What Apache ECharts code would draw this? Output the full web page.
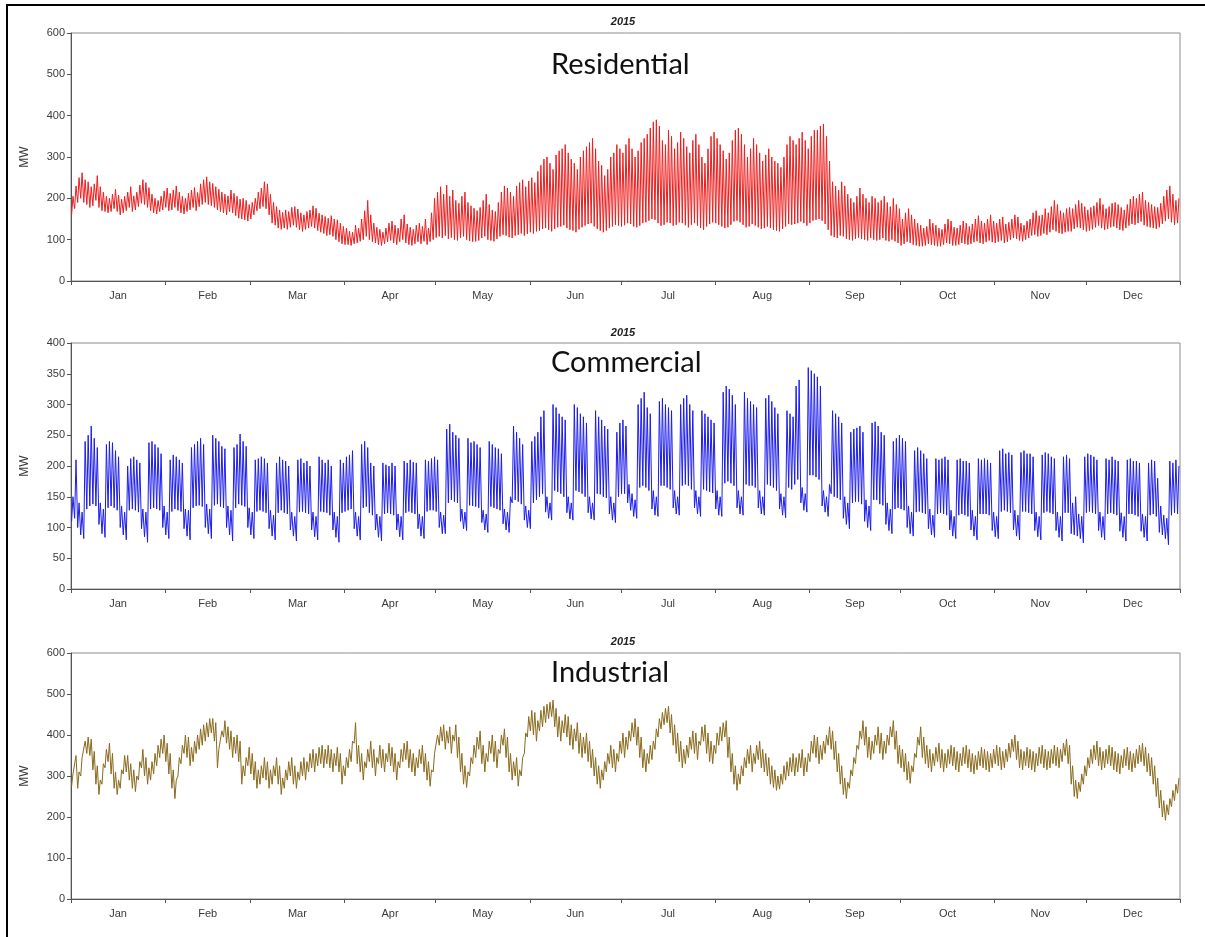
<!DOCTYPE html>
<html>
<head>
<meta charset="utf-8">
<script src="https://cdn.jsdelivr.net/npm/echarts@6/dist/echarts.min.js"></script>
<style>
html,body{margin:0;padding:0;background:#fff;}
#c{width:1205px;height:937px;}
</style>
</head>
<body>
<div id="c"></div>
<script>
const yearLabel = '2015';
const panelNames = ['Residential', 'Commercial', 'Industrial'];
const monthNames = ['Jan','Feb','Mar','Apr','May','Jun','Jul','Aug','Sep','Oct','Nov','Dec'];
const monthStarts = [0,31,59,90,120,151,181,212,243,273,304,334,365];
const yTicks1 = [0,100,200,300,400,500,600];
const yTicks2 = [0,50,100,150,200,250,300,350,400];
const yTicks3 = [0,100,200,300,400,500,600];

// Daily low / high (MW), rows are weeks starting Thu Jan 1 2015
const resHigh = [
205,230,250,262,245,240,228, 235,255,228,215,205,200,210, 222,208,198,205,215,228,206, 215,232,245,238,226,210,200,
195,205,218,225,212,220,230, 215,205,200,212,220,226,214, 235,245,252,240,236,228,222, 215,210,206,220,212,205,198,
200,195,185,190,200,215,225, 240,235,210,190,180,172,166, 172,168,178,180,174,165,160, 168,172,182,176,164,160,156,
152,158,150,148,140,132,128, 120,118,135,128,150,170,195, 160,140,130,125,118,128,140, 145,135,128,150,160,138,130,
125,135,140,132,150,128,165, 200,215,228,210,232,205,220, 195,188,205,215,190,182,176, 170,178,195,210,185,172,168,
190,215,230,225,215,205,230, 238,245,228,242,250,238,265, 280,295,300,285,270,305,315, 320,330,310,295,285,270,300,
315,325,335,345,320,290,280, 255,270,300,310,330,320,310, 330,345,320,300,315,335,345, 355,370,385,390,375,340,330,
365,350,320,335,360,345,325, 310,340,355,330,300,285,320, 350,360,345,330,315,295,310, 340,365,370,355,330,300,320,
345,330,310,290,305,320,300, 290,285,275,300,330,350,340, 330,345,360,340,320,350,365, 365,375,380,350,290,240,230,
220,240,230,210,200,190,205, 225,210,200,190,205,200,190, 195,205,190,180,200,185,175, 150,165,175,160,150,140,135,
128,132,150,140,135,128,125, 138,150,145,130,128,135,145, 140,132,138,150,158,145,140, 150,160,145,140,150,155,138,
142,150,160,155,140,135,145, 150,165,170,158,160,175,165, 180,195,185,170,165,175,178, 175,185,195,188,180,172,178,
182,190,200,185,175,180,188, 190,185,178,172,185,198,205, 200,210,215,195,190,185,180, 178,188,205,220,230,210,195,
200];
const resLow = [
160,175,190,200,190,185,178, 182,195,178,170,168,165,168, 175,168,160,165,170,178,168, 172,180,188,185,178,170,165,
162,168,172,178,170,172,178, 170,165,162,168,172,178,170, 180,185,190,185,182,178,172, 168,165,160,168,165,158,152,
150,148,145,150,160,170,175, 180,175,160,140,135,128,125, 128,125,130,135,130,124,120, 125,128,132,128,122,118,115,
110,112,108,100,95,90,88, 88,86,90,92,96,100,108, 100,95,92,88,86,90,95, 98,92,88,95,100,92,88,
86,90,95,90,96,88,95, 100,105,108,104,110,102,105, 100,98,104,108,100,97,95, 96,98,104,108,100,98,96,
102,108,112,110,106,104,110, 112,115,110,114,118,115,120, 122,126,128,124,120,126,130, 132,135,128,124,122,118,125,
130,134,138,140,132,126,122, 118,122,128,132,136,134,132, 135,140,138,132,130,134,140, 142,146,150,148,140,134,136,
142,140,134,136,142,140,135, 130,136,140,134,128,124,132, 138,142,140,136,132,128,130, 136,144,146,142,136,130,132,
138,134,130,126,128,132,128, 124,122,120,126,132,138,136, 138,140,144,140,134,140,146, 148,150,146,138,124,110,106,
104,110,108,102,100,98,102, 105,102,100,98,104,100,98, 100,104,98,96,100,96,92, 86,90,95,92,88,86,84,
84,86,90,88,86,84,84, 88,92,90,86,86,88,92, 90,88,90,94,96,92,90, 94,98,94,92,95,98,92,
95,100,104,102,98,96,100, 104,110,112,108,110,115,112, 118,124,120,116,114,118,120, 120,126,130,128,124,120,122,
125,130,134,128,124,126,130, 132,128,124,122,128,134,138, 136,140,144,135,132,130,128, 126,130,138,145,150,142,136,
140];

const comHigh = [
150,210,140,125,240,250,265, 245,230,140,130,235,240,238, 225,215,135,125,200,212,215, 210,205,130,125,238,240,235,
230,220,135,125,210,218,215, 210,205,130,128,230,235,240, 245,235,138,130,250,245,240, 232,228,135,128,230,235,252,
240,232,132,125,210,212,215, 212,205,128,120,205,215,210, 208,200,125,118,210,212,205, 208,200,125,118,215,210,205,
210,200,125,118,210,205,215, 218,225,125,118,235,240,230, 205,200,122,118,205,202,200, 205,200,122,118,208,205,210,
206,205,122,118,210,208,212, 215,210,125,120,260,268,255, 250,245,130,125,245,238,240, 235,230,128,122,240,235,230,
228,220,130,125,150,265,255, 245,235,135,128,240,248,255, 280,290,150,140,300,295,285, 280,275,150,140,300,295,285,
280,270,150,140,290,280,275, 265,260,150,140,255,270,275, 265,170,155,145,300,310,320, 295,285,160,150,305,310,300,
295,290,160,150,300,310,315, 300,290,160,150,290,285,280, 275,270,160,150,320,330,325, 315,300,160,150,320,310,305,
300,295,160,150,310,315,305, 295,285,155,150,290,285,280, 330,340,165,155,360,355,350, 345,330,160,150,170,290,285,
280,270,150,140,255,260,262, 265,255,145,135,270,272,265, 255,250,140,130,240,245,250, 245,240,135,125,225,230,225,
220,212,130,120,212,210,212, 215,210,128,118,210,212,208, 208,205,128,118,212,210,212, 210,205,125,118,225,228,220,
222,218,128,120,222,225,220, 220,215,125,118,218,222,220, 215,212,125,118,215,218,212, 140,150,122,118,215,220,218,
215,210,125,118,212,210,215, 210,208,124,118,210,212,208, 208,205,122,118,205,210,208, 180,135,120,115,208,205,210,
200];
const comLow = [
110,115,100,88,82,130,135, 138,135,105,90,84,132,135, 132,128,100,88,80,128,130, 128,125,98,85,76,130,132,
130,128,100,88,82,126,130, 128,126,98,86,80,132,135, 136,134,100,90,82,136,138, 134,132,100,88,78,132,138,
136,134,100,88,82,126,128, 126,124,98,86,80,124,128, 124,122,96,86,78,125,126, 124,122,96,85,80,126,125,
124,120,96,84,76,124,126, 128,130,98,86,80,132,134, 124,120,96,84,78,122,124, 122,120,96,85,80,124,126,
124,122,98,86,82,126,128, 128,126,100,90,90,140,145, 142,140,110,98,95,136,135, 134,132,108,96,92,134,132,
130,128,106,96,92,140,145, 142,138,112,100,98,140,145, 150,155,125,115,112,160,158, 155,150,124,114,112,160,158,
155,150,124,114,112,155,154, 150,148,122,112,108,150,155, 155,140,128,118,115,165,168, 165,160,130,120,118,168,168,
165,162,132,122,120,168,170, 168,162,132,122,118,162,160, 158,156,130,120,118,172,175, 172,168,132,122,120,170,168,
168,165,132,122,120,170,168, 165,160,130,120,116,165,162, 170,178,140,128,125,185,185, 182,178,135,125,118,155,150,
148,145,115,105,98,140,142, 142,138,110,100,95,145,145, 138,136,105,95,90,130,132, 130,128,100,90,86,125,126,
124,122,98,88,84,122,124, 122,120,96,86,82,120,122, 120,118,96,86,80,122,122, 122,120,95,85,82,126,128,
126,124,96,86,80,126,126, 124,122,95,85,80,124,126, 124,122,95,84,78,124,124, 90,88,86,82,75,124,126,
124,122,95,84,80,122,124, 122,120,94,84,78,122,122, 120,118,94,84,78,120,122, 118,92,88,82,72,120,124,
122];

const indHigh = [
305,350,310,345,385,395,390, 360,325,290,330,365,380,355, 310,290,315,350,350,330,315, 300,335,365,345,320,335,355,
375,390,400,380,355,315,290, 345,375,400,395,370,385,400, 415,425,430,440,440,430,365, 410,435,420,410,395,400,385,
325,345,370,355,335,315,325, 345,335,315,325,345,325,295, 315,335,345,325,310,335,345, 335,355,365,355,370,375,365,
375,365,355,370,355,325,345, 365,385,430,375,355,335,365, 385,365,345,375,365,355,380, 370,355,335,365,380,385,365,
355,345,365,375,355,335,315, 355,400,420,425,410,420,400, 425,395,355,325,310,345,375, 395,410,375,355,385,400,385,
365,400,415,395,355,335,345, 315,345,405,445,460,455,435, 460,470,475,480,485,465,445, 435,450,445,425,415,430,405,
395,405,385,365,345,325,315, 335,355,375,365,355,385,405, 395,410,430,440,420,395,365, 355,375,385,415,440,455,465,
470,450,425,405,385,365,375, 395,410,405,385,420,425,405, 385,375,405,420,430,435,395, 355,325,305,325,345,365,375,
355,375,385,365,355,345,325, 315,300,305,325,335,345,355, 345,355,365,345,355,385,400, 395,375,385,400,420,410,385,
355,325,295,285,315,345,375, 410,435,420,395,385,400,420, 405,385,400,420,435,410,375, 365,355,335,325,355,395,420,
395,375,365,355,370,380,365, 355,365,375,370,360,355,370, 375,365,355,350,360,370,365, 360,355,365,375,370,360,365,
380,390,400,385,365,360,370, 365,360,355,370,375,365,360, 365,375,370,365,380,390,375, 325,290,285,305,325,345,365,
375,385,370,360,365,375,370, 360,355,350,365,370,360,355, 365,375,380,370,355,345,325, 295,265,240,230,245,265,280,
295];
const indLow = [
275,305,270,300,345,355,350, 315,280,255,280,320,335,305, 270,255,270,305,310,290,270, 262,290,320,300,280,290,305,
325,345,355,335,305,270,245, 300,330,355,345,325,335,355, 365,375,385,395,405,385,320, 365,395,380,365,345,355,335,
280,300,325,305,290,270,280, 295,290,270,280,300,280,255, 270,290,300,280,270,290,300, 290,310,320,310,325,330,320,
330,320,310,325,310,280,300, 320,335,380,330,310,290,320, 335,320,300,330,320,310,335, 325,310,290,320,335,340,320,
310,300,320,330,310,290,275, 310,355,375,385,365,380,355, 385,345,310,280,272,300,330, 345,365,330,310,335,355,335,
320,355,375,345,310,290,300, 275,300,355,395,410,400,385, 410,420,430,440,445,420,395, 385,405,395,375,365,385,355,
345,355,335,320,300,280,270, 290,310,330,320,310,335,355, 345,365,385,395,375,345,320, 310,330,340,365,395,415,425,
430,405,375,355,335,320,330, 345,365,355,340,375,385,355, 335,330,355,375,385,395,345, 310,280,265,280,300,320,330,
310,330,340,320,310,300,280, 272,265,268,280,290,300,310, 300,310,320,300,310,335,355, 345,330,340,355,375,365,340,
310,280,255,245,270,300,330, 365,390,375,345,340,355,375, 355,340,355,375,395,365,330, 320,310,290,282,310,345,375,
345,330,320,310,325,335,320, 310,320,330,325,315,310,325, 330,320,310,305,315,325,320, 315,310,320,330,325,315,320,
335,345,360,340,320,315,325, 320,315,310,325,330,320,315, 320,330,325,320,335,350,330, 280,250,245,262,280,300,320,
330,340,325,315,320,330,325, 315,310,305,320,325,315,310, 320,330,335,325,310,300,280, 250,222,200,192,205,225,240,
258];

function toLine(lows, highs) {
  const out = [];
  for (let d = 0; d < lows.length; d++) {
    out.push([d + 0.2, lows[d]]);
    out.push([d + 0.65, highs[d]]);
  }
  return out;
}

const grids = [
  {left: 71, top: 33, width: 1109, height: 248},
  {left: 71, top: 343, width: 1109, height: 246},
  {left: 71, top: 653, width: 1109, height: 246}
];
const yTickSets = [yTicks1, yTicks2, yTicks3];
const colors = ['#f01c1c', '#1c1cf0', '#8a6a1c'];
const seriesData = [toLine(resLow, resHigh), toLine(comLow, comHigh), toLine(indLow, indHigh)];
const nameY = [68, 366, 676];
const titleY = [11, 322, 631];

const monthMids = [];
for (let i = 0; i < 12; i++) monthMids.push((monthStarts[i] + monthStarts[i + 1]) / 2);

const labelFont = {fontFamily: 'Liberation Sans, Arial, sans-serif', fontSize: 11, color: '#3a3a3a'};

const option = {
  animation: false,
  backgroundColor: '#fff',
  grid: grids.map(g => Object.assign({show: true, borderColor: '#8c8c8c', borderWidth: 1, backgroundColor: 'transparent'}, g)),
  title: titleY.map(t => ({
    text: yearLabel, left: 618, top: t, textAlign: 'center',
    textStyle: {fontFamily: 'Liberation Sans, Arial, sans-serif', fontSize: 11, fontWeight: 'bold', fontStyle: 'italic', color: '#222'}
  })),
  xAxis: grids.map((g, i) => ({
    type: 'value', gridIndex: i, min: 0, max: 365,
    axisLine: {show: true, lineStyle: {color: '#555', width: 1}},
    splitLine: {show: false},
    axisTick: {show: true, customValues: monthStarts, length: 4, inside: false, lineStyle: {color: '#555'}},
    axisLabel: Object.assign({show: true, customValues: monthMids, margin: 9,
      formatter: v => { for (let k = 0; k < 12; k++) { if (v >= monthStarts[k] && v < monthStarts[k + 1]) return monthNames[k]; } return ''; }
    }, labelFont)
  })),
  yAxis: grids.map((g, i) => {
    const t = yTickSets[i];
    return {
      type: 'value', gridIndex: i, min: t[0], max: t[t.length - 1], interval: t[1] - t[0],
      name: 'MW', nameLocation: 'middle', nameGap: 40, nameRotate: 90,
      nameTextStyle: {fontFamily: 'Liberation Sans, Arial, sans-serif', fontSize: 12, color: '#3a3a3a'},
      axisLine: {show: true, lineStyle: {color: '#555', width: 1}},
      axisTick: {show: true, length: 4, lineStyle: {color: '#555'}},
      splitLine: {show: false},
      axisLabel: Object.assign({margin: 6}, labelFont)
    };
  }),
  series: seriesData.map((d, i) => ({
    type: 'line', xAxisIndex: i, yAxisIndex: i, data: d,
    showSymbol: false, symbol: 'none', sampling: null,
    lineStyle: {color: colors[i], width: 1},
    itemStyle: {color: colors[i]}
  })),
  graphic: [
    {type: 'line', shape: {x1: 7, y1: 5, x2: 1205, y2: 5}, style: {stroke: '#000', lineWidth: 2}},
    {type: 'line', shape: {x1: 7, y1: 4, x2: 7, y2: 937}, style: {stroke: '#000', lineWidth: 2}}
  ].concat(panelNames.map((n, i) => ({
    type: 'text', left: 551, top: nameY[i] - 18,
    style: {text: n, fontFamily: 'Lato, Carlito, sans-serif', fontSize: 29, fill: '#111'}
  })))
};

const chart = echarts.init(document.getElementById('c'), null, {renderer: 'canvas'});
chart.setOption(option);
</script>
</body>
</html>
